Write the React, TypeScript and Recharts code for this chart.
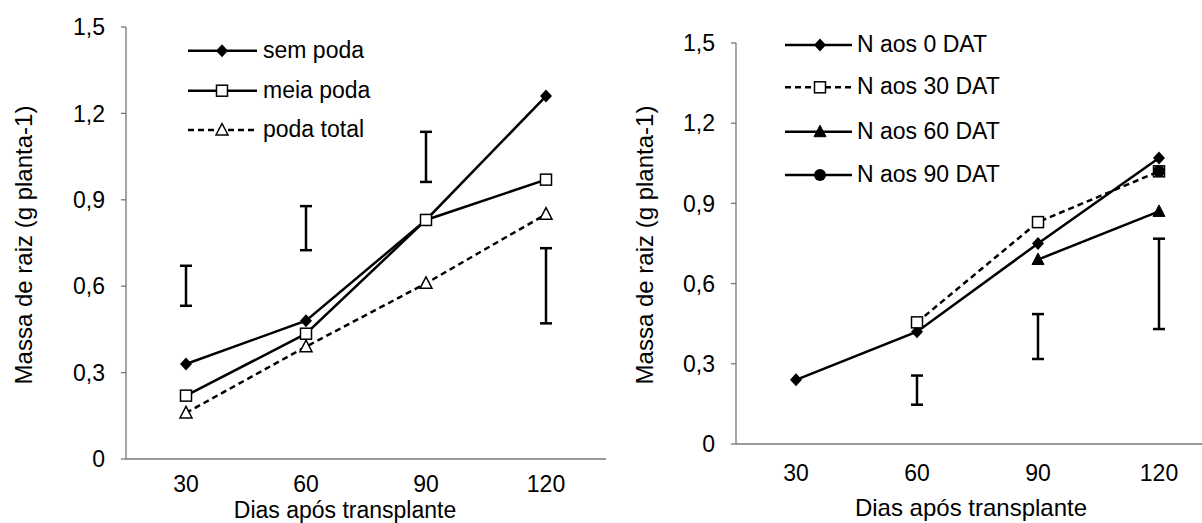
import { LineChart, Line, XAxis, YAxis, ErrorBar } from 'recharts';

const FONT = '"Liberation Sans", Arial, sans-serif';

const days = ['30', '60', '90', '120'];
const yTicks = [0, 0.3, 0.6, 0.9, 1.2, 1.5];

// esquerda: poda
const semPoda = [0.33, 0.48, 0.83, 1.26];
const meiaPoda = [0.22, 0.435, 0.83, 0.97];
const podaTotal = [0.16, 0.39, 0.61, 0.85];
const podaErrLow = [0.532, 0.725, 0.962, 0.471];
const podaErrHigh = [0.671, 0.878, 1.136, 0.732];

// direita: epoca de N
const n0 = [0.24, 0.42, 0.75, 1.07];
const n30 = [null, 0.455, 0.83, 1.02];
const n60 = [null, null, 0.69, 0.87];
const n90 = [null, null, null, 1.02];
const nErrLow = [null, 0.147, 0.318, 0.43];
const nErrHigh = [null, 0.256, 0.486, 0.768];

type Shape = 'diamond' | 'square' | 'triangle' | 'circle';

interface Serie {
  key: string;
  name: string;
  values: (number | null)[];
  shape: Shape;
  filled: boolean;
  dashed: boolean;
}

const podaSeries: Serie[] = [
  { key: 'sem', name: 'sem poda', values: semPoda, shape: 'diamond', filled: true, dashed: false },
  { key: 'meia', name: 'meia poda', values: meiaPoda, shape: 'square', filled: false, dashed: false },
  { key: 'total', name: 'poda total', values: podaTotal, shape: 'triangle', filled: false, dashed: true },
];

const nSeries: Serie[] = [
  { key: 'n0', name: 'N aos 0 DAT', values: n0, shape: 'diamond', filled: true, dashed: false },
  { key: 'n30', name: 'N aos 30 DAT', values: n30, shape: 'square', filled: false, dashed: true },
  { key: 'n60', name: 'N aos 60 DAT', values: n60, shape: 'triangle', filled: true, dashed: false },
  { key: 'n90', name: 'N aos 90 DAT', values: n90, shape: 'circle', filled: true, dashed: false },
];

const Marker = ({ shape, filled, x, y }: { shape: Shape; filled: boolean; x: number; y: number }) => {
  const fill = filled ? '#000' : '#fff';
  if (shape === 'diamond') {
    return <path d={`M${x},${y - 6.5}L${x + 6},${y}L${x},${y + 6.5}L${x - 6},${y}Z`} fill="#000" />;
  }
  if (shape === 'square') {
    return <rect x={x - 5.5} y={y - 5.5} width={11} height={11} fill={fill} stroke="#000" strokeWidth={1.5} />;
  }
  if (shape === 'triangle') {
    return (
      <path
        d={`M${x},${y - 6.5}L${x + 6},${y + 5}L${x - 6},${y + 5}Z`}
        fill={fill}
        stroke="#000"
        strokeWidth={filled ? 1 : 1.5}
      />
    );
  }
  return <circle cx={x} cy={y} r={6} fill="#000" />;
};

const makeDot = (s: Serie) => (p: any) => {
  if (p.cy == null || p.value == null) return <g key={p.index} />;
  return (
    <g key={p.index}>
      <Marker shape={s.shape} filled={s.filled} x={p.cx} y={p.cy} />
    </g>
  );
};

const fmt = (v: number) => (v === 0 ? '0' : v.toFixed(1).replace('.', ','));

interface PanelProps {
  series: Serie[];
  errLow: (number | null)[];
  errHigh: (number | null)[];
  left: number;
  width: number;
  top: number;
  xAxisHeight: number;
  yAxisWidth: number;
  xTickMargin: number;
}

const Panel = ({ series, errLow, errHigh, left, width, top, xAxisHeight, yAxisWidth, xTickMargin }: PanelProps) => {
  const data = days.map((d, i) => {
    const row: any = { day: d };
    series.forEach((s) => {
      row[s.key] = s.values[i];
    });
    const lo = errLow[i];
    const hi = errHigh[i];
    if (lo != null && hi != null) {
      row.mid = (lo + hi) / 2;
      row.err = (hi - lo) / 2;
    } else {
      row.mid = null;
      row.err = null;
    }
    return row;
  });

  return (
    <div style={{ position: 'absolute', left, top: 0 }}>
      <LineChart width={width} height={523} data={data} margin={{ top, right: 4, left: 0, bottom: 0 }}>
        <XAxis
          dataKey="day"
          height={xAxisHeight}
          padding={{ left: 60, right: 60 }}
          interval={0}
          tickLine={false}
          tickSize={5}
          tickMargin={xTickMargin}
          axisLine={{ stroke: '#777', strokeWidth: 1.3 }}
          tick={{ fill: '#000', fontSize: 23, fontFamily: FONT }}
        />
        <YAxis
          width={yAxisWidth}
          domain={[0, 1.5]}
          ticks={yTicks}
          interval={0}
          tickFormatter={fmt}
          tickSize={5}
          tickMargin={16}
          axisLine={{ stroke: '#777', strokeWidth: 1.3 }}
          tickLine={{ stroke: '#777', strokeWidth: 1.3 }}
          tick={{ fill: '#000', fontSize: 23, fontFamily: FONT }}
        />
        <Line
          dataKey="mid"
          stroke="none"
          dot={false}
          activeDot={false}
          legendType="none"
          isAnimationActive={false}
        >
          <ErrorBar dataKey="err" width={6} stroke="#000" strokeWidth={2.5} direction="y" />
        </Line>
        {series.map((s) => (
          <Line
            key={s.key}
            type="linear"
            dataKey={s.key}
            name={s.name}
            stroke="#000"
            strokeWidth={2.5}
            strokeDasharray={s.dashed ? '6 4' : undefined}
            dot={makeDot(s)}
            activeDot={false}
            isAnimationActive={false}
          />
        ))}
      </LineChart>
    </div>
  );
};

const LegendBox = ({ series, rows, x1, x2, mx, tx }: { series: Serie[]; rows: number[]; x1: number; x2: number; mx: number; tx: number }) => (
  <g>
    {series.map((s, i) => (
      <g key={s.key}>
        <line
          x1={x1}
          x2={x2}
          y1={rows[i]}
          y2={rows[i]}
          stroke="#000"
          strokeWidth={2.5}
          strokeDasharray={s.dashed ? '6 4' : undefined}
        />
        <Marker shape={s.shape} filled={s.filled} x={mx} y={rows[i]} />
        <text x={tx} y={rows[i] + 7} fontSize={23} fontFamily={FONT} fill="#000">
          {s.name}
        </text>
      </g>
    ))}
  </g>
);

export default function App() {
  return (
    <div
      style={{
        position: 'fixed',
        left: 0,
        top: 0,
        width: 1202,
        height: 523,
        overflow: 'hidden',
        background: '#fff',
      }}
    >
      <Panel
        series={podaSeries}
        errLow={podaErrLow}
        errHigh={podaErrHigh}
        left={0}
        width={610}
        top={27}
        xAxisHeight={64}
        yAxisWidth={126}
        xTickMargin={12}
      />
      <Panel
        series={nSeries}
        errLow={nErrLow}
        errHigh={nErrHigh}
        left={600}
        width={623}
        top={43}
        xAxisHeight={79}
        yAxisWidth={136}
        xTickMargin={16}
      />
      <svg
        width={1202}
        height={523}
        style={{ position: 'absolute', left: 0, top: 0, pointerEvents: 'none' }}
      >
        <LegendBox series={podaSeries} rows={[50.7, 90.7, 130]} x1={188} x2={257} mx={222} tx={263} />
        <LegendBox series={nSeries} rows={[45, 87.3, 131.7, 175]} x1={785} x2={852} mx={820} tx={857} />
        <text
          x={32}
          y={245}
          transform="rotate(-90 32 245)"
          textAnchor="middle"
          fontSize={24}
          fontFamily={FONT}
          fill="#000"
        >
          Massa de raiz (g planta-1)
        </text>
        <text
          x={653}
          y={245}
          transform="rotate(-90 653 245)"
          textAnchor="middle"
          fontSize={24}
          fontFamily={FONT}
          fill="#000"
        >
          Massa de raiz (g planta-1)
        </text>
        <text x={345} y={518} textAnchor="middle" fontSize={23} fontFamily={FONT} fill="#000">
          Dias após transplante
        </text>
        <text x={971} y={516} textAnchor="middle" fontSize={24} fontFamily={FONT} fill="#000">
          Dias após transplante
        </text>
      </svg>
    </div>
  );
}
